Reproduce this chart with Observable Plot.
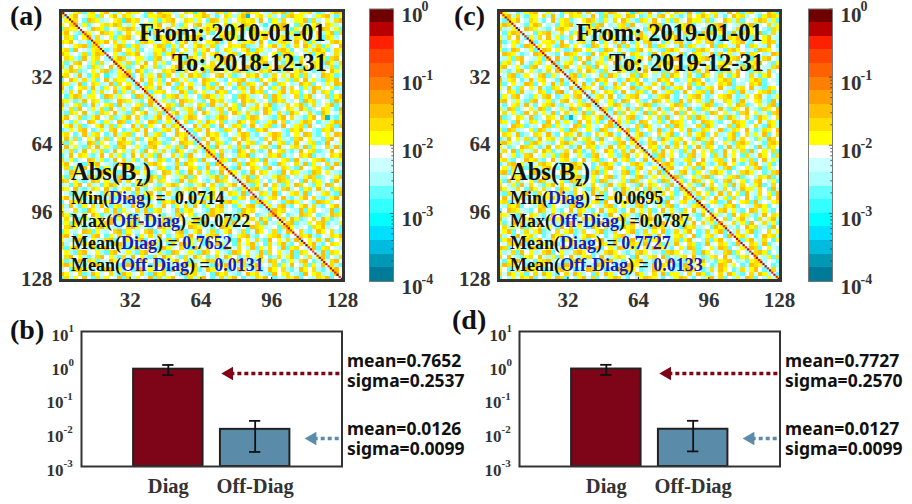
<!DOCTYPE html>
<html><head><meta charset="utf-8">
<script src="https://cdn.jsdelivr.net/npm/d3@7"></script>
<script src="https://cdn.jsdelivr.net/npm/@observablehq/plot@0.6"></script>
<style>
html,body{margin:0;background:#fff}
#root{position:relative;width:912px;height:504px;overflow:hidden;font-family:"Liberation Serif",serif}
#root svg{position:absolute;max-width:none;background:transparent}
.n{position:absolute;white-space:pre;font-weight:bold;color:#111;line-height:1;transform:translateY(-50%)}
.n b{color:#1a1ac8}
.n sub{font-size:62%;line-height:0}
</style></head><body><div id="root"></div>
<script>
const levelEdges=[1.58e-4,2.51e-4,3.98e-4,6.31e-4,1e-3,1.58e-3,2.51e-3,3.98e-3,6.31e-3,1e-2,1.58e-2,2.51e-2,3.98e-2,6.31e-2,0.1,0.158,0.251,0.398,0.631];
const levelColors=["#007a99","#0099b5","#00bbdd","#00dfff","#00ffff","#33ffff","#66ffff","#aaffff","#ccffff","#ffffff","#ffff00","#ffdf00","#ffc000","#ffa000","#ff8000","#ff6000","#ff4400","#ff2000","#b80000","#6f0000"];
const codeValues={y:0.013,g:0.02,o:0.032,a:0.05,w:0.008,l:0.005,b:0.0032,c:0.002,d:0.0013,e:0.0008,t:0.0003};
const gridTicks=[32,64,96,128];
const decades=[1,0.1,0.01,0.001,0.0001];
const minorTicks=[2e-4,3e-4,4e-4,5e-4,6e-4,7e-4,8e-4,9e-4,2e-3,3e-3,4e-3,5e-3,6e-3,7e-3,8e-3,9e-3,2e-2,3e-2,4e-2,5e-2,6e-2,7e-2,8e-2,9e-2];
const barNames=["Diag","Off-Diag"];
const meansB=[0.7652,0.0126],sigmasB=[0.2537,0.0099];
const meansD=[0.7727,0.0127],sigmasD=[0.2570,0.0099];
const barColors=["#7d0517","#5a8ca9"];

const diagA=[0.8,0.8,0.5,0.7,0.8,0.5,0.3,0.5,0.6,0.3,0.5,0.35,0.6,0.3,0.5,0.6,0.35,0.3,0.5,0.7,0.3,0.5,0.6,0.3,0.5,0.6,0.35,0.5,0.3,0.6,0.5,0.7,0.3,0.5,0.35,0.6,0.3,0.5,0.6,0.3,0.3,0.5,0.7,0.35,0.5,0.3,0.6,0.5,0.6,0.3,0.5,0.35,0.7,0.3,0.5,0.6,0.3,0.5,0.6,0.25,0.5,0.35,0.6,0.3,0.5,0.7,0.3,0.5,0.6,0.3,0.5,0.6,0.3,0.5,0.35,0.6,0.3,0.7,0.5,0.5,0.3,0.6,0.35,0.5,0.3,0.6,0.3,0.5,0.7,0.0714,0.5,0.6,0.3,0.5,0.6,0.35,0.3,0.5,0.3,0.7,0.5,0.6,0.3,0.5,0.35,0.6,0.3,0.5,0.3,0.6,0.5,0.7,0.3,0.5,0.25,0.6,0.35,0.5,0.3,0.6,0.5,0.3,0.6,0.5,0.3,0.7,0.35,0.5];
const diagC=[0.5,0.6,0.3,0.5,0.35,0.7,0.6,0.3,0.5,0.6,0.3,0.5,0.3,0.6,0.5,0.7,0.3,0.35,0.6,0.3,0.5,0.5,0.6,0.3,0.7,0.3,0.5,0.35,0.6,0.3,0.5,0.6,0.5,0.25,0.7,0.3,0.5,0.6,0.3,0.35,0.6,0.5,0.3,0.5,0.7,0.3,0.6,0.3,0.5,0.6,0.35,0.3,0.5,0.6,0.3,0.7,0.5,0.3,0.6,0.5,0.3,0.6,0.35,0.5,0.3,0.7,0.5,0.3,0.6,0.5,0.35,0.6,0.0695,0.5,0.3,0.7,0.3,0.5,0.6,0.5,0.3,0.6,0.35,0.5,0.3,0.7,0.6,0.3,0.5,0.3,0.8,0.8,0.7,0.5,0.3,0.7,0.3,0.6,0.5,0.5,0.25,0.6,0.3,0.5,0.35,0.7,0.3,0.6,0.5,0.3,0.6,0.5,0.3,0.5,0.35,0.7,0.3,0.6,0.3,0.5,0.6,0.5,0.3,0.5,0.35,0.6,0.3,0.7];

const offA=[
"ywlygcygwyolbywgyywcgloyyblwgydyowlgycywbgoyywlbgyocgwyyglcbwyog",
"gbyowlyycgwyolgybwlcyygogwbylwyyoglcwgybyotwyglybwcgoyylwbygolcy",
"lyygwcogyblwygdoyglwbycygowlgybywcoglybwygyglowcybgwlyyocgbwylgo",
"ywgobyclwygyoglbywcgyyowlgbcywgolyybwgcylogywbdlygoywcgblyowgybl",
"cgyylwbogycwlygogbwycyglowbygwclyoygbwlgyycogwblygowcylgbywoglyc",
"yowbcgylwogybclgwyyobglwcygdowbylgcwyogylbwgcyyolwbgycoylwgbyocg",
"lgycwyobglwycygobwgylcoygwblyygocwlbgoyyclwgbyowlygcbgywolycgybw",
"gyowblcygyowgbylwcgoyblygwcyolgbwyyoclgwbyyglowcbygylowgcybwlgoy",
"bwlygocgybwlyogcygblwyogcybgwlyoybgclwgyyocblgwyobyclgwoybgcylwo",
"ygcowlbygyclgowybgcwlyyobgcwylgbyowclgybwyocgylbwgoycwlybgoyclgy",
"oylwbgcyoglwybcgyowlbgycyowgblycgwyoblygcwgyolbwycgoylwbgcyowlgb",
"wgybcolygwbcyoglwyybcgolwgybcoylgwbycogwlybgcoywlgbyocglwbyycgow",
"yclgowbycglwoybgcylowgbycwlgoyybcwglyobgwclyygobwlcygbowlgycoybg",
"gbowylcgybwolgycbwoylgcbwyoglbcwyygolbcgwyolgbcywoglybcgwoylbgcy",
"lyogcbwylgocbywgloycbwlgyocbgwylocgbwylgoycbwgyolcbgwyoylcbgwoyl",
"ygwbolcygwdblygocwgbylocgwbyloygcbwgolycbwgyolcbgwyloycgbwlogycb",
"cwoylgbycwolgyybcwolgbycwoglybcwogylbcwygolbcgwyolbycgwolybcgyow",
"gyblocwgyblocgwybolcgwybolcgwybloycgwbylocgywbolcgywbloygcwbylog",
"olcwygbolcywgbyolcwgybolwcgybolwcygbolwcygbolgwcybolgwcyboglwycb",
"ybglowcybglwocybgwlocyygwbloycgwybloygcwbyloygcwbyolgycwbolgycwb",
"wcyogbyywcogbylwcogbylwcygobylwcgoybylwcgoyblwgcoyblwgcyobwlgcyo",
"gylcbowgylcbwogylbcwoglybcwogylbcwoyglbcwoyglbwcoyglbwcoygbwlcoy",
"obwygclobwygcolbwygcolbwgycolbwgycolbgwycolbgwyoclbgwyoclgbwyocl",
"ylgcowbylgcowbylgocwbylgocwbyglocwbygloycwbygloycbwgyloycbwgylco",
"bcgywolbcgywolbcgwyolbgcwyolbgcwoylbgcwoylgbcwoylgbcoywlgbcoywlg",
"yowlgcbyowlgcbyowglcbyowglcbyogwlcbyogwlbcyogwlbcyowglbcyowgtbcy",
"glcybwoglcybwogclybwogclybowgclyboywgclboywgclbyowgclbyogwclbyog",
"wyobgclwyobgcylwobgcylwobgyclwobgyclowbgyclowbygclowbygcolwbygco",
"cbylgowcbylgowcbyglowcbyglowbcyglowbcgylowbcgyoliwbcgyolwbcgyolw",
"ygwclobygwclobygcwlobygcwloygbcwloygbcwlyogbcwlyogbcwylogbcwylog",
"lobgcwylobgcwyolbgcwyolbcgwyolbcgwoylbcgwoyblcgwoyblcgowyblcgowy",
"gcywblogcywblogycwblogycbwlogycbwolgycbwolygcbwolygcbowlygcbowly",
"wolybcgwolybcgowlybcgowlybgcowlybgcolwybgcolwygbcolwygbocylwgboc",
"ybgclowybgclowybglcowybglcoywbglcoywgblcoywgbclowygbclowygcblowy",
"clowgybclowgbyclowgbycolwgbycolwbgycolwbgyoclwbgyoclbwgyoclbwgyo",
"gbyclwogbyclowgbyclowbgyclowbgycolwbgycolbwgycolbwygcolbwygoclby",
"yowlbcgyowlbcgoywlbcgoywlbgcoywlbgcoylwbgcoylwgbcoylwgbocylwgboc",
"lgcybowlgcybowlgycbowlgycbolwgycbolwgybcolwgybcowlgybcowlygbcowl",
"wbogylcwbogylcbwoglycbwoglycbowglycbowgylcbowgylbcowgylbcogwylbc",
"ycglwboycglwboycgwlboycgwlbyocgwlbyocgwblyocgwblyogcwblyogcbwlyo",
"ogwybclogwybcolgwybcolgywbcolgywbclogywbclogybwclogybwcolgybwcol",
"blcyowgblcyogwblcyogwbclyogwbclyowgbclyowgbcylowgbcylogwbcylogwb",
"gywobclgywobclygwobclygowbclygowbcylgowbcylgobwcylgobwcyglobwcyg",
"wlcgboywlcgbyowlcgbyowclgbyowclgybowclgybocwlgybocwlygbocwlygbco",
"yoblgcwyoblgcywoblgcywoblcgywoblcygwoblcygwobclygwobclyowgbclyow",
"cwgyolbcwgyolbwcgyolbwcgyoblwcgyoblwcgoyblwcgoybwlcgoybwlcogybwl",
"gbolcywgbolcyglbowcyglbowcylgbowcylgobwcylgobcwylgobcwyolgbcwyol",
"ylwgbcoylwgbocylwgbocyglwbocyglwbcoyglwbcoygwlbcoygwlbocygwlbocy",
"oycblgwoycblgowycblgowyclbgowyclbgoywclbgoywcblgoywcblogywcblogy",
"lgwocybl gwocyblgowcyblgocwyblgocywblgocywbgloycwbgloycbwgloycbw",
"bycgowlbycgowlbygcowlbygcolwbygcolbwygcolbywgcolbywgoclbywgoclby",
"wgoylcbwgoylbcwgoylbcwogylbcwogyblcwogyblwcogyblwcgoyblwcgyoblwc",
"cylbwogcylbwgocylbwgoclybwgoclyowbgclyowbgcloywbgcloywgbcloywgbc",
"gowcylbgowcylgbowcylgbowclygbowclygobwclygobcwlygobcwlgyobcwlgyo",
"ylbgocwylbgocwlybgocwlybgcowlybgcowylbgcowylgbcowylgbocwylgbocwy",
"obwlcgyobwlcgoybwlcgoybwcglo ybwcgloybwcglyobwcglyobcwglyobcwgyl",
"gcyolwbgcyolwgbcyolwgbcoylwgbcoylgwbcoylgwbocylgwbocygwlbocygwlb",
"wybcgolwybcgowlybcgowlybcogwlybcogwylbcogwylbocgwylbocgywlbocgyw",
"lgowybclgowybcglowybcgloywbcgloywcbgloywcbglyowcbglyocwbglyocwbg",
"ycblowgycbloywgcbloywgcblyowgcblyogwcblyogwcbylogwcbylgowcbylgow",
"goylbcwgoylbwcgoylbwcgyolbwcgyolwbcgyolwbgcyolwbgcylowbgcylowgbc",
"bwcgoylbwcgolybwcgolybwgcolybwgcloybwgcloywbgcloywgbcloywgbclyow",
"oylwgcboylwgbcoylwgbcoyglwbcoyglbwcoyglbcwoyglbcowyglbcowygblcow",
"cgbywolcgbywlocgbywlocgbyowlcgbyowclgbyowclbgyowclbgyocwlbgyocwl"];

const offC=[
"gylwcbygowlybwcygyolgwbcyoglwydgybowclywgybolcgwyyblowgcyglbwoyc",
"wyobglcyywgbolcwgyyblowcgbyylogwcbylgowybclgwyoybglcwoygbwlcyogy",
"lcgyowbgylcwobygclwyogbcylgwoybcgylowbycglwoyybgclwoybgcwlyogbyc",
"yogbwlcyogwblcygobwlycgowblygcowlbyogcwlbygoclwbygocwlbgyoclwgby",
"gblycwogylbcwgoylbwcgyoblwcygoblwcgyolbwcgyolwbgcyolwbgcoylwbcgy",
"wcyogblwcygoblgwcyobglwcyoblgwycoblgwycoblgywcobglywcobglywocbgl",
"ybgwolcybgwolycbgwoylcbgwoylcbwgoylcbwgyolcbwgyolbcwgyolbcgwyolb",
"oclygbwocly gbowclygbowcylgbowcylgobwcylgobcwylgobcwlygobcwlyogb",
"glwybcogl wybcoglywbcoglywbocglywbocgylwbocgylbwocgylbowcgylbowc",
"ycbogwlycbogwylcbogwylbcogwylbcgowylbcgoywlbcgoywblcgoywblcogywb",
"wogylcbwogylbcwogylbcowgylbcowgyblcowgyblocwgyblocgwyblocgywblog",
"lbycgowlbycgwolbycgwoblycgwoblcygwoblcygowblcygowbclygowbcylgowb",
"cygbwolcygbwoclygbwoclgybwoclgyobwclgyobwclygobwclygowbclygowbcy",
"gowlybcgowlybgcowlybgcowylbgcowylgbcowylgbcoywlgbcoywlbgcoywlbgo",
"ybclgowybclgwoybclgwoybcglwoybcglowybcglowbycglowbcyglowbcyglobw",
"wlgocbywlgocybwlgocybwlgcoybwlgcoywblgcoywbglcoywbglcyowbglcyowb",
"obygwclobygwlcobygwlcboygwlcboygwclboygwclbyogwclbyogcwlbyogcwlb",
"gcwylbogcwylobgcwylobgwcylobgwcyolbgwcyolbwgcyolbwgyoclbwgyoclwb",
"ylobcgwylobcgywlobcgywlocbgywlocbygwlocbygwolcbygwolbcygwolbcgyw",
"bwgycolbwgycloabwgyclobwgyclowbgyclowbygclowbygcolwbygcolbwygocl",
"cylgowbcylgowcbylgowcbyglowcbygolwcbygolcwbygolcbwygolcbywgolcby",
"gowbylcgowbyclgowbyclogwbyclogwybclogwybcolgwybcolwgybcolwygbcol",
"lcwygbolcwygobcl wygobclwyogbclwyogcblwyogcbwlyogcbwylogcbwylgoc",
"ybogclwybogcwlybogcwylbogcwylobgcwylobcgwylobcgywlobcgywolbcgywo",
"wglybcowglybocwglybocgwlybocgwylbocgwyblocgwyblcogwyblcgowyblcgo",
"ocbwgylocbwgyloctbwgyl ocbwylgocbwylgcobwylgcoybwlgcoybwglcoybwg",
"gylcowbgylcowgbylcowgbyclowgbyclogwbyclogybwclogybcwlogybcwolgyb",
"lbwogyclbwogcylbwogcylbwgocylbwgcoylbwgcoyblwgcoybwlgcoybwglcoyb",
"ycogblwycogbwlycogbwylcogbwylocgbwylocbgwylocbgywlocbgywolcbgywo",
"wgylocbwgylobcwgylobcwglyobcwglyocbwglyocwbglyocwgblyocwgbylocwg",
"cbowylgcbowygl cbowyglcobwyglcoybwglcoyb gwlcoybgwlcyobgwlcybogw",
"goylbwcgoylbcwgoylbcgowylbcgowylcbgowylcgbowylcgobwylcgoybwlcgoy",
"ylcbwogylcbowgylcbowgyclbowgyclobwgyclobgwyclobgywclobgywlcobgyw",
"bgwocylbgwoyclbgwoyclgbwoyclgbowyclgbowylcgbowylgcbowylgcobwylgc",
"owlycbgowlyb cgowlybcgolwybcgolyw bcgolywcbgolywcgbolywcgbloywcg",
"ygbcwloygbcwolygbcwolygcbwolygcwbolygcwoblygcwolbygcwolybgcwolyb",
"clgowybclgoywbclgoybwclgoybcwlgoybclwgoybclgwoybclgowybclgowbycl",
"wybglocwybgolcwybgolwcybgolwycbgolwybcgolwybgcolwybgoclwybgocylw",
"gocylbwgocyblwgocybwlgocywblgocywbglocywbgolcywbgoylcwbgoylwcbgo",
"lbwgyoclbwgoyclbwgoclybwgoclywbgoclyw bgoclwybgoclwbygoclwbgyocl",
"ycolgbwycoglbwycogblwycogbwlycogbwylcogbwyclogbwyclgobwyclgowbyc",
"gwbycolgwbcyolgwbcoylgwbcolygwbcolgywbcolgwybcolgwbycolgwbyoclgw",
"oylbgwcoylgbwcoylgwbcoylgwcboylgwcobylgwcoybgwlcoybgwclo ybgwcol",
"bcgwlyobcgwyl obcgwylobgcwylobgwcylobgwycl obgwyclobgwycolbgwyco",
"wolycgbwolcygbwolcgybwolcgbywolcgbwyolcgbwoylcgbwolycgbwolcybgwo",
"ygcbowlygcobwlygcowblygcowlbygcowlybgcowlygbcowlygcbowlygcobwlyg",
"lbgyocwlbgocywlbgoc ywlbgocwylbgocwlybgocwlbygocwlbgyocwlbgoycwl",
"cwogylbcwoglybcwolgybcwolygbcwolybgcwolybcgwolybcwgolybcwoglybcw",
"gyblcowgybclowgybcolwgybcowlgybcowglybcowgylbcowgyblcowgybclowgy",
"obwgclyobwcglyobwclgyobwclygobwclyogbwclyobgwclyobwgclyobwcglyob",
"ycloWgbycowlgbycowglbycowgblycowgbylcowgbyclowgbycolwgbycowlgbyc".toLowerCase(),
"wgbyloc wgbylcowgbylcoywgblcoygwblcoygbwlcoygblwcoygblcwoygblcow",
"lyocwbglyocbwglyocbgwlyocbglwyocbglywocbglyowcbglyocwbglyocbwgly",
"gbwcolygbwcloygbwclyogbwclygobwclygbowclygbwoclygbwcolygbwcloygb",
"cyolbwgcyolbgwcyolbgcwyolbgcywolbgcyowlbgcyolwbgcyolbwgcyolbgwcy",
"wlgybocwlgyboclwgybolcwgybolwcgybolwgcybolwgycbolwgybcolwgyboclw",
"ogcwylbogcwyblogcwybolgcwybogl cwybog lcwybogclwybogcwlybogcwylb",
"yblgcowyblgocwyblgoywcblgoywbclgoywblcgoywblgcoywblgocywblgoycwb",
"gwolbcygwolbycgwolbygcwolbyg wcolbygwoclbygwolcbygwolbcygwolbycg",
"lcygowblcygobwlcygoblwcygoblcwygoblcywgoblcygwoblcygowblcygobwlc",
"bogylwcbogywlcbogywclbogywcblogywcbolgywcbogl ywcboglywcbogylwcb",
"ywcbglo ywcblgoywcblogywcblo gywcblogywcblgoywcbgloywcbglyowcbgl",
"gloyb cwgloybcwgloybwcgloybwgcloybwgloc ybwgloycbwgloybcwgloybwc",
"cwbylg ocwbylogcwbyolgcwbyoglcwbyog lcwbyoglcwbyolgcwbylogcwbylg"];

const root=document.getElementById("root");
const color={type:"threshold",domain:levelEdges,range:levelColors};
const ink="#333";
const base={style:{fontFamily:"'Liberation Serif',serif",fontWeight:"bold",color:ink,background:"transparent"}};
function add(plot,left,top){plot.style.left=left+"px";plot.style.top=top+"px";root.appendChild(plot);}
function note(x,y,html,size,extra){const d=document.createElement("div");d.className="n";d.style.cssText=`left:${x}px;top:${y}px;font-size:${size}px;${extra||""}`;d.innerHTML=html;root.appendChild(d);}

function heat(left,frameW,rows,diag){
  const off=[];
  rows.forEach((r,j)=>r.replace(/ /g,"y").split("").forEach((ch,i)=>{if(codeValues[ch])off.push({i,j,v:codeValues[ch]});}));
  const s=128/rows.length;
  const dg=diag.map((v,i)=>({i:i+1,v}));
  const p=Plot.plot({...base,width:frameW+80,height:320,marginLeft:60,marginRight:20,marginTop:10,marginBottom:40,
    x:{domain:[0.5,128.5],axis:null},y:{domain:[0.5,128.5],reverse:true,axis:null},color,
    marks:[
      Plot.rect(off,{x1:d=>d.i*s+0.5,x2:d=>(d.i+1)*s+0.5,y1:d=>d.j*s+0.5,y2:d=>(d.j+1)*s+0.5,fill:"v",shapeRendering:"crispEdges",clip:true}),
      Plot.rect(dg,{x1:d=>d.i-0.5,x2:d=>d.i+0.5,y1:d=>d.i-0.5,y2:d=>d.i+0.5,fill:"v",clip:true}),
      Plot.axisX({anchor:"bottom",ticks:gridTicks,tickSize:0,tickPadding:12,fontSize:21,label:null,fill:ink}),
      Plot.axisY({anchor:"left",ticks:gridTicks,tickSize:0,tickPadding:8,fontSize:21,label:null,fill:ink}),
      Plot.ruleX(gridTicks,{y1:128.5,y2:127,stroke:"#222"}),
      Plot.ruleY(gridTicks,{x1:0.5,x2:2,stroke:"#222"}),
      Plot.frame({stroke:ink,strokeWidth:3})
    ]});
  const g=p.querySelector('g[aria-label="rect"]');
  if(g)g.style.filter="blur(0.4px)";
  add(p,left-60,0);
}
function cbar(left){
  const bins=[1e-4,...levelEdges].map((a,i)=>({a,b:[...levelEdges,1][i]}));
  add(Plot.plot({...base,width:100,height:300,marginLeft:14,marginRight:62,marginTop:8.5,marginBottom:19,
    x:{domain:[0,1],axis:null},y:{type:"log",domain:[1e-4,1],axis:null},color,
    marks:[
      Plot.rect(bins,{x1:0,x2:1,y1:"a",y2:"b",fill:d=>Math.sqrt(d.a*d.b),shapeRendering:"crispEdges"}),
      Plot.ruleY(minorTicks,{x1:0.93,x2:1,stroke:"#333",strokeWidth:0.8}),
      Plot.ruleY(decades,{x1:0.87,x2:1,stroke:"#333",strokeWidth:0.8}),
      Plot.frame({stroke:"#777",strokeWidth:1}),
      Plot.text(decades,{x:1,y:d=>d,text:()=>"10",textAnchor:"start",dx:8,dy:6,fontSize:21,fill:ink}),
      Plot.text(decades,{x:1,y:d=>d,text:d=>String(Math.round(Math.log10(d))),textAnchor:"start",dx:28,dy:-2,fontSize:14,fill:ink})
    ]}),left-14,0);
}
function bars(left,mL,W,means,sigmas){
  const mk=barNames.map((n,i)=>({n,i:i+1,m:means[i],s:sigmas[i],c:barColors[i]}));
  const pos=[10,1],neg=[0.1,0.01,0.001];
  const sans={x:3,dx:5,textAnchor:"start",fontFamily:"'Noto Sans',sans-serif",fontWeight:700,fontSize:17.5,fill:"#111"};
  add(Plot.plot({...base,width:W,height:184,marginLeft:mL,marginRight:W-mL-260.5,marginTop:11,marginBottom:38,
    x:{domain:[0,3],axis:null},y:{type:"log",domain:[1e-3,10],axis:null},
    marks:[
      Plot.rect(mk,{x1:d=>d.i-0.4,x2:d=>d.i+0.4,y1:1e-3,y2:"m",fill:"c",stroke:"#222",strokeWidth:2}),
      Plot.ruleX(mk,{x:"i",y1:d=>d.m-d.s,y2:d=>d.m+d.s,stroke:"#111",strokeWidth:1.8}),
      Plot.ruleY(mk,{y:d=>d.m+d.s,x1:d=>d.i-0.065,x2:d=>d.i+0.065,stroke:"#111",strokeWidth:1.8}),
      Plot.ruleY(mk,{y:d=>d.m-d.s,x1:d=>d.i-0.065,x2:d=>d.i+0.065,stroke:"#111",strokeWidth:1.8}),
      Plot.ruleY([0.57],{x1:1.72,x2:3,stroke:barColors[0],strokeWidth:3.5,strokeDasharray:"4 3"}),
      Plot.dot([0.57],{x:1.7,y:d=>d,symbol:"triangle",rotate:-90,r:5,fill:barColors[0]}),
      Plot.ruleY([0.0068],{x1:2.68,x2:3,stroke:barColors[1],strokeWidth:3.5,strokeDasharray:"4 3"}),
      Plot.dot([0.0068],{x:2.66,y:d=>d,symbol:"triangle",rotate:-90,r:5,fill:barColors[1]}),
      Plot.axisX({anchor:"bottom",ticks:[1,2],tickFormat:d=>barNames[d-1],tickSize:0,tickPadding:12,fontSize:20.5,label:null,fill:ink}),
      Plot.frame({stroke:ink,strokeWidth:2}),
      Plot.text(pos,{x:0,y:d=>d,text:()=>"10",textAnchor:"end",dx:-13,dy:4,fontSize:17,fill:ink}),
      Plot.text(pos,{x:0,y:d=>d,text:d=>String(Math.round(Math.log10(d))),textAnchor:"start",dx:-13,dy:-3,fontSize:11,fill:ink}),
      Plot.text(neg,{x:0,y:d=>d,text:()=>"10",textAnchor:"end",dx:-18,dy:4,fontSize:17,fill:ink}),
      Plot.text(neg,{x:0,y:d=>d,text:d=>String(Math.round(Math.log10(d))),textAnchor:"start",dx:-18,dy:-3,fontSize:11,fill:ink}),
      Plot.text([1.29],{...sans,y:d=>d,text:()=>`mean=${means[0].toFixed(4)}`}),
      Plot.text([0.33],{...sans,y:d=>d,text:()=>`sigma=${sigmas[0].toFixed(4)}`}),
      Plot.text([0.0125],{...sans,y:d=>d,text:()=>`mean=${means[1].toFixed(4)}`}),
      Plot.text([0.00319],{...sans,y:d=>d,text:()=>`sigma=${sigmas[1].toFixed(4)}`})
    ]}),left,320);
}
heat(60,283,offA,diagA);heat(498,282,offC,diagC);cbar(369);cbar(807.5);
bars(0,81,480,meansB,sigmasB);bars(440,79,472,meansD,sigmasD);

function panelText(x,right,t){
  note(right-189,33,`From: ${t.from}`,24.5);note(right-156,63,`To: ${t.to}`,24.5);
  note(x,172,"Abs(B<sub>z</sub>)",24.5);
  note(x,198,`Min(<b>Diag</b>) =  ${t.min}`,18);
  note(x,221,`Max(<b>Off-Diag</b>) =${t.max}`,18);
  note(x,243,`Mean(<b>Diag</b>) = <b>${t.md}</b>`,18);
  note(x,265,`Mean(<b>Off-Diag</b>) = <b>${t.mo}</b>`,18);
}
panelText(71,328,{from:"2010-01-01",to:"2018-12-31",min:"0.0714",max:"0.0722",md:"0.7652",mo:"0.0131"});
panelText(510,765,{from:"2019-01-01",to:"2019-12-31",min:"0.0695",max:"0.0787",md:"0.7727",mo:"0.0133"});
note(10,16,"(a)",28);note(10,330,"(b)",28);note(454,16,"(c)",28);note(452,320,"(d)",28);
</script></body></html>
